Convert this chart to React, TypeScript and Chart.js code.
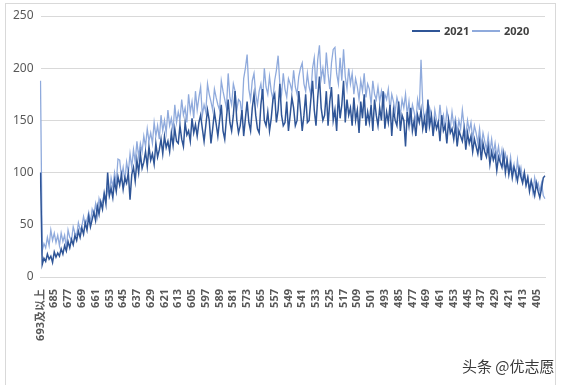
import React, { useEffect, useRef } from "react";
import { Chart, registerables } from "chart.js";

Chart.register(...registerables);

// categories: "693及以上", then 692 down to 400
const topLabel = "693及以上";
const lowestScore = 400;
const highestScore = 692;
const categories: string[] = [topLabel];
for (let s = highestScore; s >= lowestScore; s--) categories.push(String(s));

const series2021: number[] = [
  100,
  12, 18, 15, 22, 17, 20, 14, 24, 19, 23,
  20, 27, 22, 30, 25, 34, 28, 36, 31, 40,
  35, 44, 38, 47, 41, 52, 45, 58, 48, 55,
  62, 54, 68, 60, 72, 65, 80, 70, 100, 78,
  85, 76, 92, 82, 96, 88, 98, 84, 95, 90,
  100, 74, 98, 105, 92, 112, 100, 118, 104, 110,
  120, 106, 125, 112, 118, 108, 128, 115, 122, 132,
  118, 135, 124, 130, 120, 138, 126, 142, 130, 128,
  145, 132, 125, 148, 136, 140, 130, 152, 138, 146,
  135, 148, 155, 142, 130, 145, 160, 150, 128, 142,
  158, 147, 135, 150, 165, 140, 132, 152, 170, 148,
  140, 155, 178, 150, 138, 145, 160, 135, 152, 168,
  148, 140, 162, 175, 155, 142, 138, 165, 180, 150,
  145, 158, 140, 152, 170, 175, 148, 160, 185, 155,
  145, 148, 168, 140, 155, 172, 162, 145, 150, 178,
  160, 140, 155, 175, 148, 150, 170, 188, 160, 145,
  172, 192, 162, 150, 155, 178, 145, 168, 182, 150,
  160, 140, 175, 152, 165, 188, 148, 170, 155, 162,
  145, 172, 150, 160, 138, 168, 152, 175, 145, 158,
  148, 165, 140, 170, 155, 145, 162, 150, 178, 142,
  158, 148, 165, 135, 160, 150, 145, 168, 140, 155,
  150, 125, 158, 145, 162, 140, 150, 135, 155, 148,
  160, 142, 152, 138, 170, 145, 155, 135, 150, 142,
  148, 130, 155, 140, 145, 128, 150, 138, 142, 132,
  145, 125, 140, 135, 130, 142, 122, 138, 128, 135,
  120, 132, 125, 118, 130, 112, 128, 120, 115, 125,
  108, 120, 112, 118, 102, 115, 110, 105, 118, 100,
  112, 98, 108, 95, 105, 100, 92, 104, 96, 90,
  100, 88, 95, 82, 92, 85, 78, 90, 82, 76,
  85, 95, 97,
];

const series2020: number[] = [
  188,
  25, 32, 28, 38, 30, 45, 35, 42, 33, 40,
  30, 42, 34, 40, 28, 45, 38, 35, 48, 42,
  40, 52, 45, 48, 58, 50, 55, 62, 52, 65,
  60, 70, 58, 75, 68, 72, 80, 74, 85, 78,
  95, 86, 100, 90, 113, 112, 95, 105, 92, 110,
  100, 118, 105, 122, 110, 130, 115, 128, 120, 135,
  125, 142, 130, 138, 128, 148, 135, 145, 132, 155,
  140, 150, 138, 160, 145, 152, 140, 165, 148, 158,
  150, 170, 155, 162, 148, 175, 158, 168, 152, 178,
  160, 172, 182, 155, 165, 158, 185, 175, 168, 160,
  180, 172, 165, 160, 188, 178, 170, 162, 195, 172,
  165, 185, 178, 160, 170, 168, 155, 190, 200, 213,
  180, 170, 188, 195, 175, 165, 178, 185, 170, 200,
  182, 175, 192, 178, 170, 188, 198, 212, 185, 175,
  195, 180, 172, 190, 185, 178, 198, 182, 175, 192,
  200, 205, 185, 178, 195, 182, 175, 200, 210, 180,
  208, 222, 190, 200, 185, 215, 195, 180, 205, 218,
  220, 195, 185, 210, 188, 218, 192, 180, 200, 185,
  195, 175, 190, 182, 170, 188, 178, 195, 172, 185,
  180, 165, 188, 175, 170, 182, 168, 178, 165, 175,
  170, 180, 160, 175, 168, 158, 172, 165, 155, 170,
  162, 175, 155, 168, 150, 165, 158, 148, 170, 160,
  208, 165, 150, 158, 145, 162, 155, 140, 160, 150,
  145, 165, 148, 155, 140, 160, 150, 142, 158, 145,
  152, 138, 150, 142, 160, 145, 135, 150, 140, 148,
  132, 145, 138, 128, 142, 125, 138, 130, 122, 135,
  120, 132, 118, 128, 115, 125, 112, 122, 108, 118,
  110, 102, 115, 100, 108, 95, 112, 98, 105, 92,
  100, 88, 96, 85, 92, 80, 95, 86, 90, 82,
  90, 78, 75,
];

const yTicks: number[] = [0, 50, 100, 150, 200, 250];
const seriesNames: string[] = ["2021", "2020"];
const seriesColors: string[] = ["#2f5597", "#8faadc"];
const labelEvery = 8;

const FONT = "'Noto Sans', 'Noto Sans CJK SC', sans-serif";

export default function App() {
  const canvasRef = useRef<HTMLCanvasElement | null>(null);

  useEffect(() => {
    document.body.style.margin = "0";
    const canvas = canvasRef.current;
    if (!canvas) return;
    const chart = new Chart(canvas, {
      type: "line",
      data: {
        labels: categories,
        datasets: [
          {
            label: seriesNames[0],
            data: series2021,
            borderColor: seriesColors[0],
            backgroundColor: seriesColors[0],
            borderWidth: 1.5,
            pointRadius: 0,
            tension: 0,
          },
          {
            label: seriesNames[1],
            data: series2020,
            borderColor: seriesColors[1],
            backgroundColor: seriesColors[1],
            borderWidth: 1.3,
            pointRadius: 0,
            tension: 0,
          },
        ],
      },
      options: {
        animation: false,
        responsive: false,
        devicePixelRatio: 1,
        layout: { padding: { left: 0, right: 20, top: 16, bottom: 0 } },
        scales: {
          x: {
            type: "category",
            offset: false,
            grid: { display: false },
            border: { display: true, color: "#d9d9d9" },
            ticks: {
              autoSkip: false,
              minRotation: 90,
              maxRotation: 90,
              padding: 4,
              color: "#595959",
              font: { family: FONT, size: 11, weight: "bold" },
              callback: (_v: any, i: number) => (i % labelEvery === 0 ? categories[i] : ""),
            },
            afterFit: (s: any) => {
              s.height = 108;
            },
          },
          y: {
            min: yTicks[0],
            max: yTicks[yTicks.length - 1],
            afterBuildTicks: (s: any) => {
              s.ticks = yTicks.map((v) => ({ value: v }));
            },
            ticks: {
              padding: 7,
              color: "#595959",
              font: { family: FONT, size: 12 },
            },
            grid: { color: "#d9d9d9", drawTicks: false },
            border: { display: false },
            afterFit: (s: any) => {
              s.width = 40.5;
            },
          },
        },
        plugins: {
          tooltip: { enabled: false },
          legend: { display: false },
        },
      } as any,
    });
    return () => chart.destroy();
  }, []);

  const legendItem = (name: string, color: string, left: number) => (
    <div
      key={name}
      style={{ position: "absolute", left, top: 24, height: 14, display: "flex", alignItems: "center" }}
    >
      <div style={{ width: 28, height: 2, background: color, marginRight: 4 }} />
      <span
        style={{
          fontFamily: FONT,
          fontSize: 11,
          fontWeight: "bold",
          color: "#404040",
          lineHeight: "14px",
        }}
      >
        {name}
      </span>
    </div>
  );

  return (
    <div style={{ position: "relative", width: 565, height: 385, overflow: "hidden", background: "#fff" }}>
      <div
        style={{
          position: "absolute",
          left: 5,
          top: 3,
          width: 551,
          height: 400,
          border: "1px solid #d9d9d9",
          boxSizing: "border-box",
        }}
      />
      <canvas ref={canvasRef} width={565} height={385} style={{ position: "absolute", left: 0, top: 0 }} />
      {legendItem(seriesNames[0], seriesColors[0], 412)}
      {legendItem(seriesNames[1], seriesColors[1], 472)}
      <div
        style={{
          position: "absolute",
          left: 462,
          top: 358,
          fontFamily: "'Noto Sans CJK SC', sans-serif",
          fontSize: 15,
          lineHeight: "16px",
          color: "#3a3a3a",
          whiteSpace: "nowrap",
        }}
      >
        头条 @优志愿
      </div>
    </div>
  );
}
